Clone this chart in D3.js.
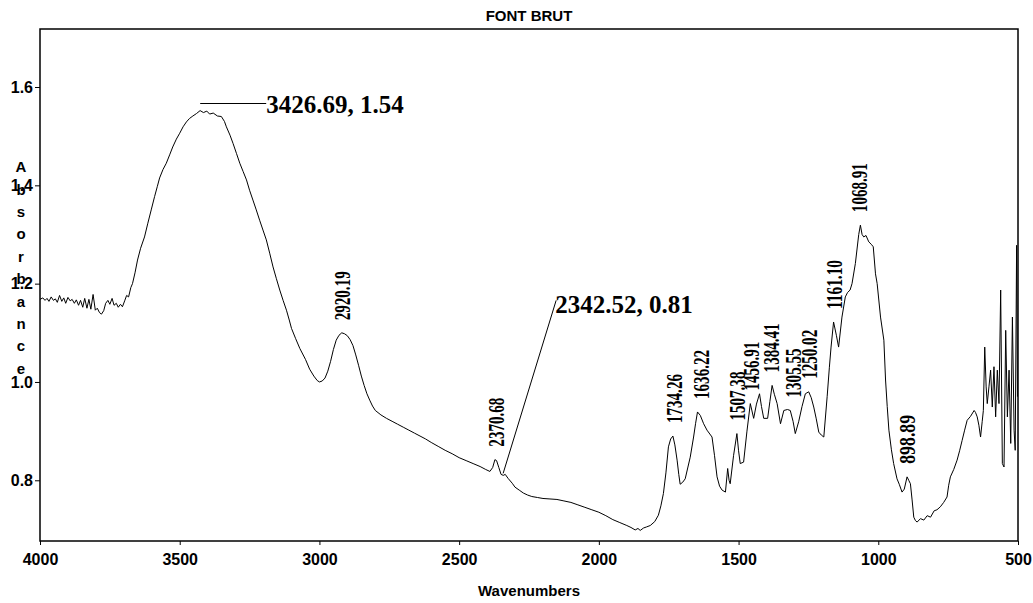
<!DOCTYPE html>
<html>
<head>
  <title>FONT BRUT</title>
  <script src="https://d3js.org/d3.v7.min.js"></script>
  <style>
    body { margin: 0; background: #fff; }
    .sans { font-family: "Liberation Sans", Arial, sans-serif; }
    .serif { font-family: "Liberation Serif", "Times New Roman", serif; }
  </style>
</head>
<body>
<div id="chart"></div>
<script>
  // spectrum (wavenumber, absorbance)
  const wavenumbers = [
    4000, 3990, 3982, 3975, 3968, 3960, 3952, 3945, 3938, 3930, 3922, 3915, 3908, 3900, 3892, 3885,
    3877, 3870, 3862, 3855, 3847, 3840, 3832, 3825, 3818, 3810, 3802, 3795, 3787, 3780, 3772, 3765,
    3757, 3750, 3742, 3735, 3727, 3720, 3712, 3705, 3697, 3690, 3683, 3675, 3669, 3660, 3651, 3640,
    3626, 3614, 3602, 3590, 3580, 3572, 3560, 3548, 3536, 3525, 3512, 3500, 3488, 3476, 3465, 3453,
    3440, 3427, 3415, 3403, 3393, 3380, 3365, 3351, 3340, 3333, 3320, 3309, 3297, 3285, 3273, 3261,
    3250, 3238, 3226, 3214, 3202, 3190, 3178, 3166, 3154, 3142, 3130, 3118, 3108, 3100, 3085, 3070,
    3050, 3035, 3020, 3008, 3000, 2990, 2980, 2970, 2960, 2950, 2940, 2930, 2920, 2910, 2900, 2890,
    2880, 2870, 2860, 2850, 2840, 2830, 2820, 2810, 2800, 2780, 2760, 2740, 2720, 2700, 2680, 2660,
    2640, 2620, 2600, 2575, 2550, 2525, 2500, 2475, 2450, 2425, 2405, 2390, 2380, 2372, 2366, 2358,
    2350, 2342, 2335, 2325, 2310, 2300, 2285, 2270, 2255, 2240, 2220, 2200, 2175, 2150, 2125, 2100,
    2075, 2050, 2025, 2000, 1975, 1950, 1925, 1900, 1885, 1870, 1860, 1852, 1840, 1830, 1816, 1800,
    1787, 1778, 1769, 1760, 1751, 1743, 1735, 1728, 1720, 1714, 1709, 1700, 1691, 1682, 1673, 1661,
    1654, 1647, 1637, 1625, 1613, 1595, 1586, 1577, 1568, 1559, 1547, 1539, 1534, 1530, 1518, 1506,
    1500, 1494, 1482, 1470, 1458, 1446, 1436, 1425, 1418, 1410, 1396, 1388, 1380, 1372, 1362, 1350,
    1338, 1325, 1315, 1305, 1297, 1285, 1273, 1261, 1249, 1240, 1231, 1222, 1213, 1204, 1195, 1183,
    1175, 1169, 1160, 1150, 1142, 1130, 1118, 1110, 1101, 1094, 1082, 1070, 1064, 1058, 1052, 1044,
    1034, 1025, 1018, 1010, 1004, 992, 980, 974, 968, 962, 953, 945, 933, 925, 915, 907,
    897, 891, 885, 879, 873, 867, 861, 849, 837, 825, 813, 800, 790, 778, 766, 754,
    748, 742, 730, 718, 709, 700, 691, 682, 670, 657, 652, 646, 640, 634, 628, 624,
    619, 614, 610, 604, 598, 592, 586, 580, 574, 568, 562, 556, 550, 544, 538, 532,
    526, 520, 514, 510, 505, 502
  ];
  const absorbance = [
    1.168, 1.171, 1.166, 1.170, 1.164, 1.173, 1.166, 1.169, 1.162, 1.176, 1.164, 1.171, 1.160, 1.172, 1.165, 1.168,
    1.160, 1.167, 1.156, 1.166, 1.152, 1.170, 1.150, 1.168, 1.148, 1.178, 1.146, 1.150, 1.141, 1.138, 1.145, 1.160,
    1.166, 1.158, 1.170, 1.156, 1.160, 1.152, 1.158, 1.153, 1.165, 1.176, 1.173, 1.192, 1.200, 1.222, 1.248, 1.272,
    1.295, 1.323, 1.350, 1.377, 1.398, 1.415, 1.432, 1.445, 1.462, 1.478, 1.494, 1.506, 1.519, 1.529, 1.536, 1.541,
    1.546, 1.552, 1.548, 1.551, 1.545, 1.547, 1.541, 1.540, 1.530, 1.519, 1.502, 1.485, 1.465, 1.445, 1.428, 1.411,
    1.390, 1.370, 1.350, 1.329, 1.309, 1.289, 1.262, 1.234, 1.210, 1.187, 1.166, 1.146, 1.126, 1.109, 1.088, 1.068,
    1.046, 1.026, 1.012, 1.003, 1.000, 1.002, 1.008, 1.022, 1.042, 1.066, 1.085, 1.095, 1.100, 1.098, 1.094, 1.086,
    1.074, 1.055, 1.034, 1.012, 0.993, 0.976, 0.963, 0.951, 0.942, 0.933, 0.926, 0.920, 0.914, 0.908, 0.902, 0.896,
    0.890, 0.884, 0.877, 0.869, 0.861, 0.854, 0.846, 0.840, 0.834, 0.828, 0.822, 0.818, 0.826, 0.842, 0.840, 0.826,
    0.812, 0.810, 0.812, 0.804, 0.794, 0.786, 0.780, 0.774, 0.770, 0.767, 0.765, 0.763, 0.762, 0.761, 0.758, 0.755,
    0.750, 0.745, 0.740, 0.735, 0.728, 0.720, 0.714, 0.708, 0.704, 0.699, 0.702, 0.698, 0.703, 0.705, 0.708, 0.716,
    0.729, 0.748, 0.773, 0.815, 0.868, 0.884, 0.890, 0.872, 0.841, 0.812, 0.792, 0.796, 0.803, 0.825, 0.847, 0.888,
    0.915, 0.939, 0.932, 0.915, 0.902, 0.888, 0.850, 0.807, 0.788, 0.780, 0.776, 0.824, 0.800, 0.793, 0.850, 0.895,
    0.860, 0.834, 0.837, 0.900, 0.956, 0.926, 0.955, 0.976, 0.950, 0.926, 0.926, 0.960, 0.993, 0.975, 0.956, 0.915,
    0.942, 0.944, 0.942, 0.920, 0.895, 0.919, 0.950, 0.976, 0.980, 0.968, 0.949, 0.925, 0.898, 0.892, 0.888, 0.970,
    1.030, 1.071, 1.122, 1.095, 1.071, 1.132, 1.173, 1.182, 1.187, 1.200, 1.241, 1.300, 1.319, 1.300, 1.295, 1.298,
    1.285, 1.280, 1.275, 1.220, 1.200, 1.132, 1.085, 1.004, 0.950, 0.902, 0.862, 0.834, 0.803, 0.792, 0.776, 0.782,
    0.807, 0.800, 0.793, 0.760, 0.725, 0.718, 0.715, 0.722, 0.719, 0.728, 0.725, 0.738, 0.740, 0.746, 0.755, 0.766,
    0.790, 0.807, 0.822, 0.841, 0.860, 0.881, 0.902, 0.922, 0.930, 0.942, 0.938, 0.929, 0.912, 0.888, 0.920, 0.942,
    1.071, 0.990, 0.956, 0.990, 1.024, 0.949, 1.031, 0.929, 1.024, 0.956, 1.187, 0.834, 0.827, 1.105, 0.929, 1.024,
    0.875, 1.132, 0.902, 0.861, 1.278, 0.970
  ];

  const xTicks = [4000, 3500, 3000, 2500, 2000, 1500, 1000, 500];
  const yTicks = [0.8, 1.0, 1.2, 1.4, 1.6];

  // vertical peak labels
  const peakWavenumbers = [2920.19, 2370.68, 1734.26, 1636.22, 1507.38, 1456.91, 1384.41, 1305.55, 1250.02, 1161.10, 1068.91, 898.89];
  const peakHeights = [1.099, 0.842, 0.890, 0.939, 0.895, 0.956, 0.993, 0.942, 0.980, 1.122, 1.319, 0.807];
  const peakLabels = ["2920.19", "2370.68", "1734.26", "1636.22", "1507.38", "1456.91", "1384.41", "1305.55", "1250.02", "1161.10", "1068.91", "898.89"];

  // annotations with leader lines
  const noteWavenumbers = [3426.69, 2342.52];
  const noteValues = [1.54, 0.81];

  const width = 1033, height = 603;
  const margin = { top: 29, right: 15, bottom: 62, left: 40 };

  const svg = d3.select("#chart").append("svg")
    .attr("width", width)
    .attr("height", height);

  const x = d3.scaleLinear()
    .domain([4000, 500])
    .range([margin.left, width - margin.right]);

  const y = d3.scaleLinear()
    .domain([0.6765, 1.718])
    .range([height - margin.bottom, margin.top]);

  svg.append("defs").append("clipPath").attr("id", "clip")
    .append("rect")
    .attr("x", margin.left).attr("y", margin.top)
    .attr("width", width - margin.left - margin.right)
    .attr("height", height - margin.top - margin.bottom);

  // spectrum line
  const points = wavenumbers.map((w, i) => [w, absorbance[i]]);
  const line = d3.line().x(d => x(d[0])).y(d => y(d[1]));

  svg.append("path")
    .datum(points)
    .attr("clip-path", "url(#clip)")
    .attr("fill", "none")
    .attr("stroke", "#000")
    .attr("stroke-width", 1)
    .attr("d", line);

  // frame
  svg.append("rect")
    .attr("x", margin.left).attr("y", margin.top)
    .attr("width", width - margin.left - margin.right)
    .attr("height", height - margin.top - margin.bottom)
    .attr("fill", "none")
    .attr("stroke", "#000")
    .attr("stroke-width", 1.5);

  // axes
  const xAxis = svg.append("g")
    .attr("transform", `translate(0,${height - margin.bottom})`)
    .call(d3.axisBottom(x).tickValues(xTicks).tickSize(4).tickPadding(9).tickFormat(d3.format("d")));
  xAxis.select(".domain").remove();

  const yAxis = svg.append("g")
    .attr("transform", `translate(${margin.left},0)`)
    .call(d3.axisLeft(y).tickValues(yTicks).tickSize(5).tickPadding(2).tickFormat(d3.format(".1f")));
  yAxis.select(".domain").remove();

  svg.selectAll(".tick text")
    .attr("class", "sans")
    .attr("font-size", 16)
    .attr("font-weight", "bold")
    .attr("fill", "#000");
  svg.selectAll(".tick line").attr("stroke", "#000");

  // title and axis titles
  svg.append("text")
    .attr("class", "sans")
    .attr("x", x(2250))
    .attr("y", 21)
    .attr("text-anchor", "middle")
    .attr("font-size", 15)
    .attr("font-weight", "bold")
    .text("FONT BRUT");

  svg.append("text")
    .attr("class", "sans")
    .attr("x", x(2250))
    .attr("y", 596)
    .attr("text-anchor", "middle")
    .attr("font-size", 15)
    .attr("font-weight", "bold")
    .text("Wavenumbers");

  // y title, one letter per line (it runs over the tick labels, as in the original)
  svg.append("text")
    .attr("class", "sans")
    .attr("x", 21)
    .attr("y", 167)
    .attr("text-anchor", "middle")
    .attr("font-size", 15)
    .attr("font-weight", "bold")
    .selectAll("tspan")
    .data("Absorbance".split(""))
    .join("tspan")
    .attr("x", 21)
    .attr("dy", (d, i) => i === 0 ? "0.35em" : 22.4)
    .text(d => d);

  // peak labels, squeezed like the instrument print-out
  svg.append("g")
    .selectAll("text")
    .data(peakLabels)
    .join("text")
    .attr("class", "serif")
    .attr("transform", (d, i) => `translate(${x(peakWavenumbers[i])},${y(peakHeights[i]) - 13}) rotate(-90)`)
    .attr("dy", "0.35em")
    .attr("font-size", 24)
    .attr("font-weight", "bold")
    .attr("textLength", 49)
    .attr("lengthAdjust", "spacingAndGlyphs")
    .text(d => d);

  // annotation: main peak
  const n0x = x(noteWavenumbers[0]), n0y = y(noteValues[0]);
  svg.append("line")
    .attr("x1", n0x).attr("y1", n0y - 13)
    .attr("x2", n0x + 66).attr("y2", n0y - 13)
    .attr("stroke", "#000").attr("stroke-width", 1);
  svg.append("text")
    .attr("class", "serif")
    .attr("x", n0x + 66)
    .attr("y", n0y - 4)
    .attr("font-size", 25)
    .attr("font-weight", "bold")
    .text(`${noteWavenumbers[0]}, ${noteValues[0]}`);

  // annotation: CO2 band
  const n1x = x(noteWavenumbers[1]), n1y = y(noteValues[1]);
  svg.append("line")
    .attr("x1", n1x).attr("y1", n1y - 2)
    .attr("x2", n1x + 53).attr("y2", n1y - 175)
    .attr("stroke", "#000").attr("stroke-width", 1);
  svg.append("text")
    .attr("class", "serif")
    .attr("x", n1x + 52)
    .attr("y", n1y - 162)
    .attr("font-size", 25)
    .attr("font-weight", "bold")
    .text(`${noteWavenumbers[1]}, ${noteValues[1]}`);
</script>
</body>
</html>
